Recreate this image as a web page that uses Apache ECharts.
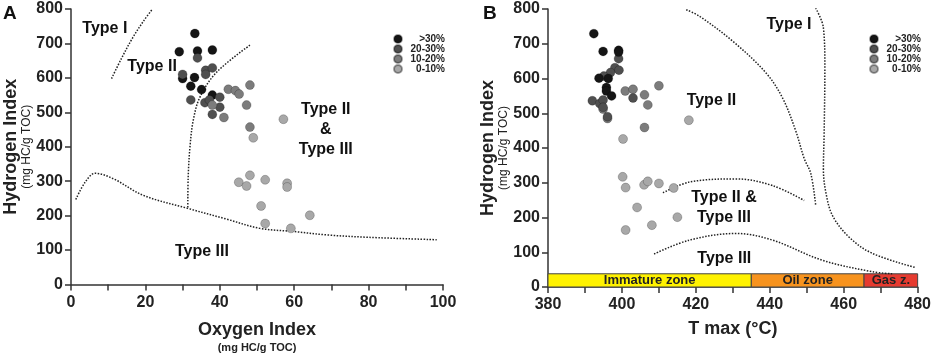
<!DOCTYPE html>
<html>
<head>
<meta charset="utf-8">
<script src="https://cdn.jsdelivr.net/npm/echarts@6/dist/echarts.min.js"></script>
<style>
html, body { margin: 0; padding: 0; background: #fff; }
#main { width: 934px; height: 358px; }
</style>
</head>
<body>
<div id="main"></div>
<script>
// classes of the legend
const classNames = ['>30%', '20-30%', '10-20%', '0-10%']
const classColors = ['#151515', '#4f4f4f', '#7c7c7c', '#a8a8a8']

// panel A : Oxygen Index / Hydrogen Index
const aBlack = [[33.3, 729], [29.1, 676], [34.0, 678], [38.0, 681], [30.0, 598], [33.2, 601], [32.2, 576], [35.1, 566], [38.0, 550]]
const aDark = [[34.0, 658], [30.0, 610], [36.2, 622], [36.2, 610], [38.0, 629], [32.2, 536], [36.0, 528], [37.2, 536], [40.0, 544], [40.0, 515], [38.0, 494]]
const aMid = [[38.0, 521], [41.1, 485], [42.3, 567], [44.2, 563], [45.2, 553], [48.1, 579], [47.2, 521], [48.1, 457]]
const aLight = [[49.0, 426], [57.1, 480], [45.1, 297], [48.1, 317], [47.2, 286], [52.2, 304], [58.1, 294], [58.1, 283], [51.1, 228], [52.2, 177], [59.1, 163], [64.2, 201]]

// panel B : Tmax / Hydrogen Index
const bBlack = [[392.4, 729], [394.9, 678], [399.1, 681], [399.1, 676], [393.8, 601], [396.3, 600], [395.8, 574], [395.8, 564], [397.2, 550]]
const bDark = [[399.1, 657], [398.1, 631], [399.2, 624], [396.9, 617], [395.1, 607], [392.0, 536], [394.0, 528], [394.9, 538], [394.9, 517], [403.0, 544], [396.1, 490]]
const bMid = [[400.9, 564], [403.0, 569], [406.1, 553], [407.0, 524], [410.0, 579], [406.1, 459], [396.1, 485], [394.9, 512]]
const bLight = [[400.3, 426], [418.1, 480], [400.2, 317], [401.0, 286], [406.0, 294], [407.0, 304], [410.0, 298], [414.0, 285], [404.1, 229], [415.0, 201], [408.1, 178], [401.0, 164]]

// kerogen type boundaries (dotted)
const aTypeI = [[10.9, 598], [13.5, 655], [16.5, 715], [19.5, 765], [21.7, 797]]
const aTypeII = [[48.1, 695], [39.2, 617], [34.7, 545], [32.9, 479], [32.0, 402], [31.5, 311], [31.4, 221]]
const aTypeIII = [[1.3, 247], [3.8, 297], [6.5, 323], [11.4, 307], [19.4, 259], [31.4, 221], [41.8, 190], [50.8, 163], [59.8, 154], [68.7, 144], [80.0, 137], [98.3, 130]]
const bTypeILeft = [[417.4, 798], [421.0, 779], [429.9, 708], [438.9, 617], [443.4, 545], [447.0, 450], [449.3, 370], [451.1, 326], [452.4, 237]]
const bTypeIRight = [[452.4, 803], [454.5, 746], [454.9, 631], [454.7, 440], [454.5, 340], [455.2, 270], [457.0, 205], [461.4, 144], [467.7, 97], [479.4, 56]]
const bTypeIIIII = [[411.1, 271], [418.3, 302], [430.9, 311], [440.7, 292], [449.3, 249]]
const bTypeIII = [[408.7, 95], [418.3, 135], [430.9, 154], [440.7, 135], [454.2, 77], [467.7, 44], [473.1, 38]]

// maturity zones on Tmax
const zoneNames = ['Immature zone', 'Oil zone', 'Gas z.']
const zoneRanges = [[380, 435], [435, 465.5], [465.5, 480]]
const zoneColors = ['#fff200', '#f7931e', '#e63b30']
const zoneTop = 38

// region labels [x, y, text]
const aLabels = [[9.1, 742, 'Type I'], [21.8, 633, 'Type II'], [68.5, 450, 'Type II\n&\nType III'], [35.2, 95, 'Type III']]
const bLabels = [[445.2, 756, 'Type I'], [424.2, 536, 'Type II'], [427.6, 229, 'Type II &\nType III'], [427.7, 83, 'Type III']]

const FONT = 'Liberation Sans, Arial, sans-serif'
const myChart = echarts.init(document.getElementById('main'))

const axisCommon = {
  axisLine: { show: true, lineStyle: { color: '#333', width: 1.5 } },
  axisTick: { show: true, length: 6, lineStyle: { color: '#333', width: 1.5 } },
  splitLine: { show: false },
  axisLabel: { color: '#222', fontSize: 16, fontWeight: 'bold', fontFamily: FONT }
}

const yAxisOf = (idx, gap) => ({
  ...axisCommon,
  type: 'value',
  gridIndex: idx,
  min: 0,
  max: 800,
  interval: 100,
  axisLabel: { ...axisCommon.axisLabel, margin: 8 },
  name: '{a|Hydrogen Index}\n{b|(mg HC/g TOC)}',
  nameLocation: 'middle',
  nameRotate: 90,
  nameGap: gap,
  nameTextStyle: {
    fontFamily: FONT,
    rich: {
      a: { fontSize: 18, fontWeight: 'bold', color: '#222', fontFamily: FONT, lineHeight: 18 },
      b: { fontSize: 12, fontWeight: 'normal', color: '#222', fontFamily: FONT, lineHeight: 12 }
    }
  }
})

const xLabel = (v) => (v % 20 === 0 ? String(v) : '')

const scatterOf = (name, data, idx, color) => ({
  name: name,
  type: 'scatter',
  xAxisIndex: idx,
  yAxisIndex: idx,
  symbolSize: 9,
  data: data,
  itemStyle: { color: color, borderColor: 'rgba(0,0,0,0.35)', borderWidth: 0.6, opacity: 1 },
  z: 5
})

const curveOf = (data, idx) => ({
  type: 'line',
  xAxisIndex: idx,
  yAxisIndex: idx,
  data: data,
  smooth: 0.35,
  symbol: 'none',
  silent: true,
  lineStyle: { color: '#222', width: 1.5, type: 'dotted' },
  z: 3
})

const labelSeries = (labels, idx) => ({
  type: 'scatter',
  xAxisIndex: idx,
  yAxisIndex: idx,
  symbolSize: 0,
  silent: true,
  itemStyle: { opacity: 1 },
  data: labels.map((l) => ({ value: [l[0], l[1]], name: l[2] })),
  label: {
    show: true,
    position: 'inside',
    formatter: (p) => p.name,
    color: '#111',
    opacity: 1,
    fontSize: 16,
    fontWeight: 'bold',
    fontFamily: FONT,
    lineHeight: 20,
    align: 'center'
  },
  z: 4
})

const legendOf = (left) => ({
  data: classNames,
  orient: 'vertical',
  left: left,
  top: 34,
  padding: 0,
  icon: 'circle',
  itemWidth: 8,
  itemHeight: 8,
  itemGap: 0,
  selectedMode: false,
  formatter: (n) => '{r|' + n + '}',
  textStyle: {
    fontFamily: FONT,
    rich: { r: { width: 38, align: 'right', fontSize: 10, fontWeight: 'bold', color: '#222', lineHeight: 10, fontFamily: FONT } }
  }
})

const option = {
  animation: false,
  backgroundColor: '#fff',
  textStyle: { fontFamily: FONT },
  grid: [
    { left: 71, right: 491, top: 9, bottom: 71 },
    { left: 548, right: 15, top: 9, bottom: 71 }
  ],
  legend: [legendOf(393), legendOf(869)],
  xAxis: [
    {
      ...axisCommon,
      type: 'value',
      gridIndex: 0,
      min: 0,
      max: 100,
      interval: 10,
      axisLabel: { ...axisCommon.axisLabel, margin: 10, formatter: xLabel },
      name: '{a|Oxygen Index}\n{b|(mg HC/g TOC)}',
      nameLocation: 'middle',
      nameGap: 36,
      nameTextStyle: {
        verticalAlign: 'top',
        rich: {
          a: { fontSize: 18, fontWeight: 'bold', color: '#222', fontFamily: FONT, lineHeight: 20 },
          b: { fontSize: 11, fontWeight: 'bold', color: '#222', fontFamily: FONT, lineHeight: 14 }
        }
      }
    },
    {
      ...axisCommon,
      type: 'value',
      gridIndex: 1,
      min: 380,
      max: 480,
      interval: 10,
      axisLabel: { ...axisCommon.axisLabel, margin: 10, formatter: xLabel },
      name: 'T max (°C)',
      nameLocation: 'middle',
      nameGap: 33,
      nameTextStyle: { verticalAlign: 'top', fontSize: 18, fontWeight: 'bold', color: '#222', fontFamily: FONT }
    }
  ],
  yAxis: [yAxisOf(0, 36), yAxisOf(1, 38)],
  graphic: [
    { type: 'text', left: 3, top: 4, style: { text: 'A', fontSize: 19, fontWeight: 'bold', fill: '#111', fontFamily: FONT } },
    { type: 'text', left: 483, top: 4, style: { text: 'B', fontSize: 19, fontWeight: 'bold', fill: '#111', fontFamily: FONT } }
  ],
  series: [
    curveOf(aTypeI, 0),
    curveOf(aTypeII, 0),
    curveOf(aTypeIII, 0),
    curveOf(bTypeILeft, 1),
    curveOf(bTypeIRight, 1),
    curveOf(bTypeIIIII, 1),
    curveOf(bTypeIII, 1),
    labelSeries(aLabels, 0),
    labelSeries(bLabels, 1),
    scatterOf(classNames[0], aBlack, 0, classColors[0]),
    scatterOf(classNames[1], aDark, 0, classColors[1]),
    scatterOf(classNames[2], aMid, 0, classColors[2]),
    scatterOf(classNames[3], aLight, 0, classColors[3]),
    scatterOf(classNames[3], bLight, 1, classColors[3]),
    scatterOf(classNames[2], bMid, 1, classColors[2]),
    scatterOf(classNames[1], bDark, 1, classColors[1]),
    scatterOf(classNames[0], bBlack, 1, classColors[0]),
    {
      // maturity zone bar
      type: 'line',
      xAxisIndex: 1,
      yAxisIndex: 1,
      data: [],
      silent: true,
      markArea: {
        silent: true,
        data: zoneNames.map((n, i) => [
          {
            name: n,
            xAxis: zoneRanges[i][0],
            yAxis: 0,
            itemStyle: { color: zoneColors[i], borderColor: '#444', borderWidth: 1 }
          },
          { xAxis: zoneRanges[i][1], yAxis: zoneTop }
        ]),
        label: {
          show: true,
          position: 'inside',
          color: '#222',
          fontSize: 13,
          fontWeight: 'bold',
          fontFamily: FONT
        }
      },
      z: 2
    }
  ]
}
myChart.setOption(option)
</script>
</body>
</html>
